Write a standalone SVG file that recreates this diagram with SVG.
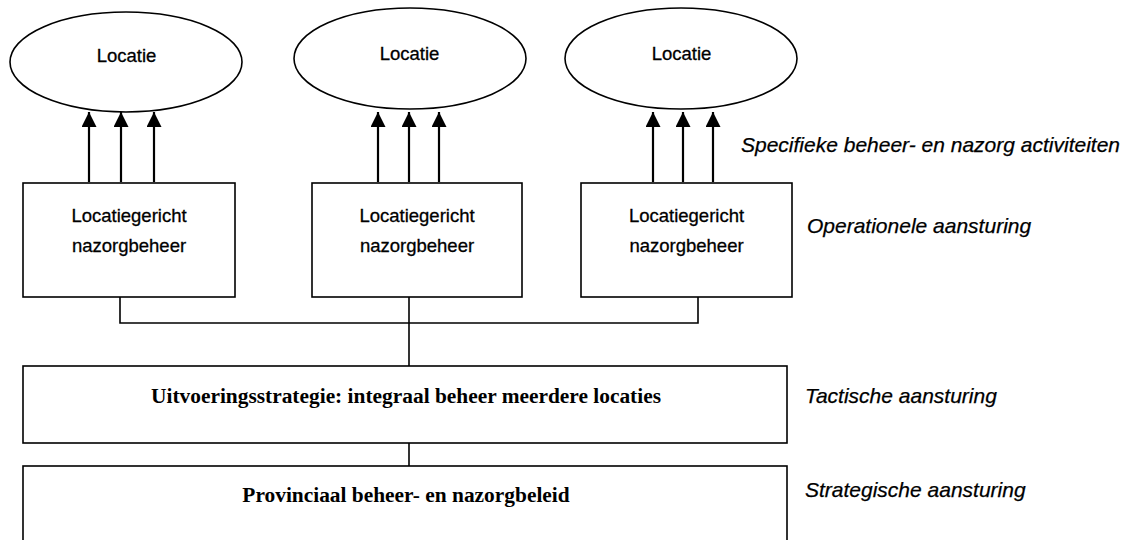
<svg xmlns="http://www.w3.org/2000/svg" width="1138" height="540" viewBox="0 0 1138 540">
<style>
.shape{fill:#fff;stroke:#000;stroke-width:1.6}
.conn{fill:none;stroke:#000;stroke-width:1.6}
.arr{fill:none;stroke:#000;stroke-width:2.2}
.lbl{font-family:"Liberation Sans",Arial,sans-serif;font-size:18.5px;fill:#000;stroke:#000;stroke-width:0.3;text-anchor:middle}
.side{font-family:"Liberation Sans",Arial,sans-serif;font-size:21px;font-style:italic;fill:#000;stroke:#000;stroke-width:0.25}
.serif{font-family:"Liberation Serif","Times New Roman",serif;font-size:21.4px;font-weight:bold;fill:#000;text-anchor:middle}
</style>
<defs>
<marker id="head" markerUnits="userSpaceOnUse" markerWidth="16" markerHeight="16" refX="15" refY="7.5" orient="auto">
<path d="M0,0 L15,7.5 L0,15 Z" fill="#000"/>
</marker>
</defs>
<rect width="1138" height="540" fill="#fff"/>

<g id="loc1"><ellipse class="shape" cx="126" cy="62" rx="116" ry="50"/><text class="lbl" x="126.5" y="62">Locatie</text></g>
<g id="loc2"><ellipse class="shape" cx="410" cy="58.5" rx="116" ry="50.5"/><text class="lbl" x="409.5" y="60">Locatie</text></g>
<g id="loc3"><ellipse class="shape" cx="681" cy="58.5" rx="116" ry="50.5"/><text class="lbl" x="681.5" y="60">Locatie</text></g>

<g id="box1"><rect class="shape" x="23" y="183" width="212" height="114"/><text class="lbl" x="129" y="222" font-size="19.6">Locatiegericht</text><text class="lbl" x="129" y="252" font-size="19.6">nazorgbeheer</text></g>
<g id="box2"><rect class="shape" x="312" y="183" width="210" height="114"/><text class="lbl" x="417" y="222" font-size="19.6">Locatiegericht</text><text class="lbl" x="417" y="252" font-size="19.6">nazorgbeheer</text></g>
<g id="box3"><rect class="shape" x="581" y="183" width="211" height="114"/><text class="lbl" x="686.5" y="222" font-size="19.6">Locatiegericht</text><text class="lbl" x="686.5" y="252" font-size="19.6">nazorgbeheer</text></g>

<g id="tactisch"><rect class="shape" x="23" y="366" width="764" height="77"/><text class="serif" x="406" y="403">Uitvoeringsstrategie: integraal beheer meerdere locaties</text></g>
<g id="strategisch"><rect class="shape" x="23" y="466" width="764" height="90"/><text class="serif" x="406" y="502">Provinciaal beheer- en nazorgbeleid</text></g>

<g id="connectors">
<line class="arr" x1="89" y1="182" x2="89" y2="112" marker-end="url(#head)"/>
<line class="arr" x1="121" y1="182" x2="121" y2="112" marker-end="url(#head)"/>
<line class="arr" x1="154" y1="182" x2="154" y2="112" marker-end="url(#head)"/>
<line class="arr" x1="378" y1="182" x2="378" y2="112" marker-end="url(#head)"/>
<line class="arr" x1="409" y1="182" x2="409" y2="112" marker-end="url(#head)"/>
<line class="arr" x1="439" y1="182" x2="439" y2="112" marker-end="url(#head)"/>
<line class="arr" x1="653" y1="182" x2="653" y2="112" marker-end="url(#head)"/>
<line class="arr" x1="683" y1="182" x2="683" y2="112" marker-end="url(#head)"/>
<line class="arr" x1="713" y1="182" x2="713" y2="112" marker-end="url(#head)"/>
<polyline class="conn" points="120,297 120,323 698,323 698,297"/>
<line class="conn" x1="409" y1="297" x2="409" y2="366"/>
<line class="conn" x1="409" y1="443" x2="409" y2="466"/>
</g>

<g id="labels">
<text class="side" x="741" y="152">Specifieke beheer- en nazorg activiteiten</text>
<text class="side" x="807" y="233">Operationele aansturing</text>
<text class="side" x="805" y="403">Tactische aansturing</text>
<text class="side" x="805" y="497">Strategische aansturing</text>
</g>
</svg>
